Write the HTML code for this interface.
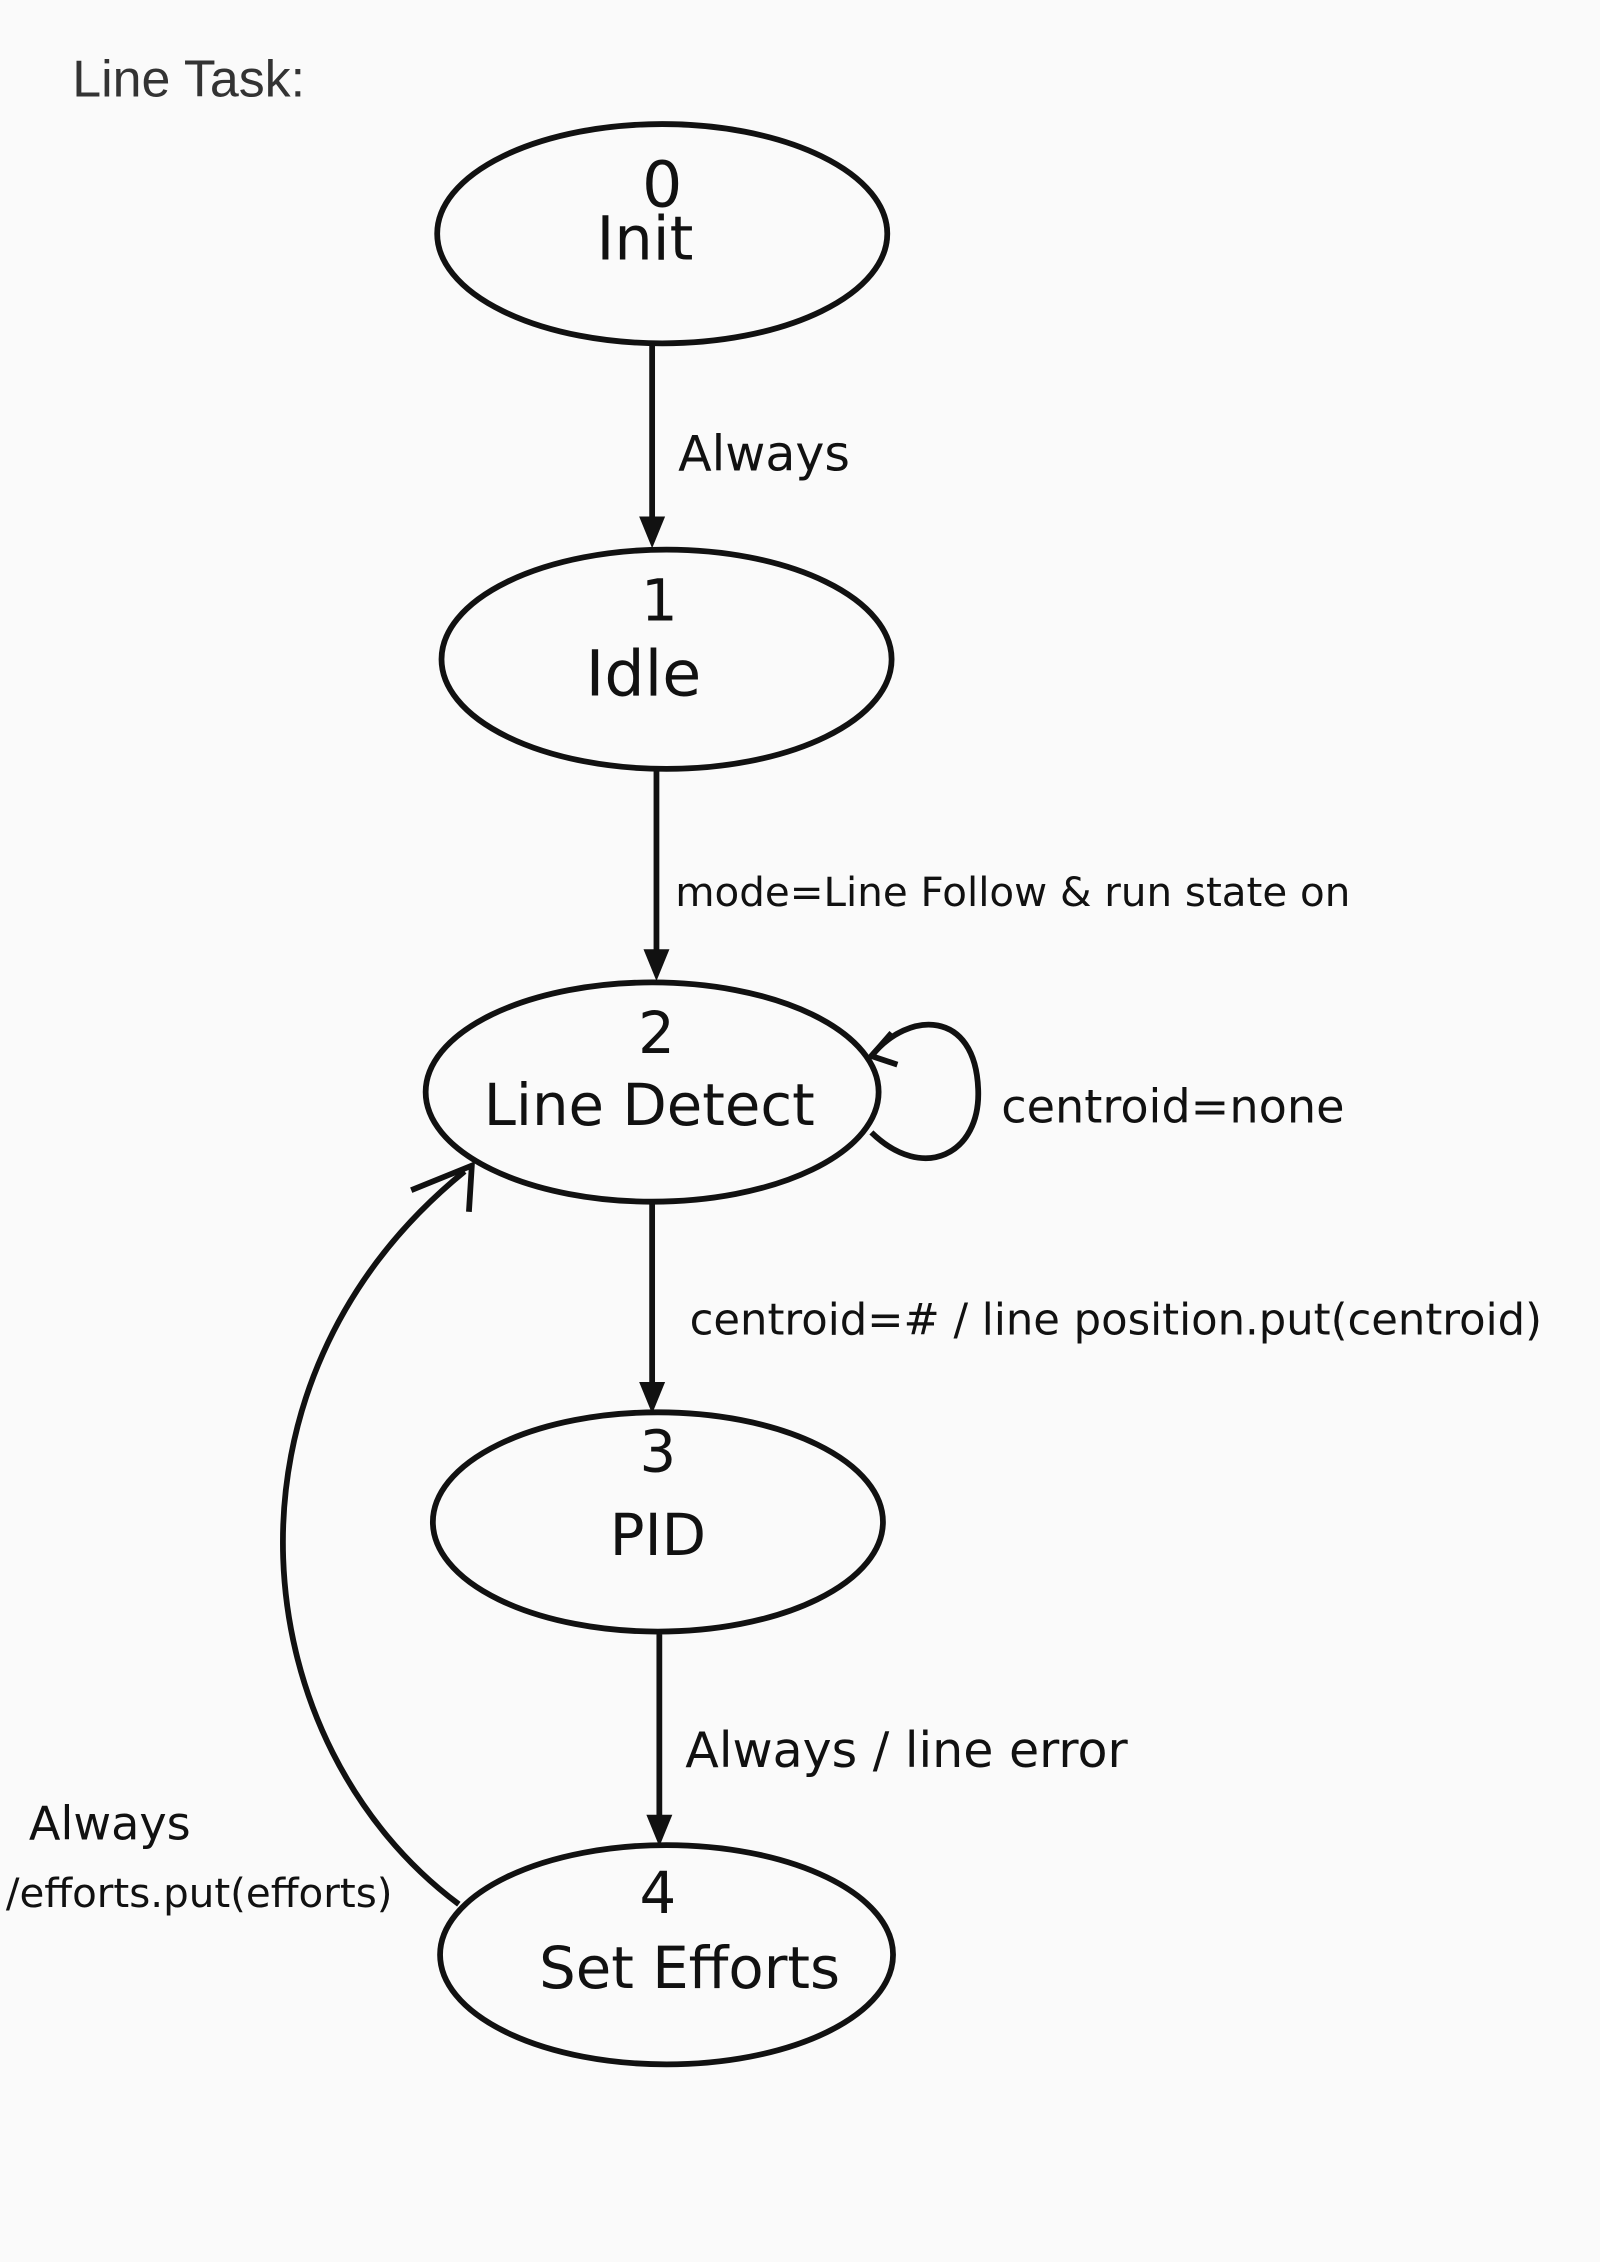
<!DOCTYPE html>
<html><head><meta charset="utf-8"><style>
html,body{margin:0;padding:0;background:#fafafa;}
svg{display:block}
text{font-family:"Liberation Sans",sans-serif;fill:#111}
.h{font-family:"DejaVu Sans","Liberation Sans",sans-serif;}
</style></head><body>
<svg width="1600" height="2262" viewBox="0 0 1109 1568" xmlns="http://www.w3.org/2000/svg">
<rect width="1109" height="1568" fill="#fafafa"/>
<text x="50" y="67" font-size="36" style="fill:#333">Line Task:</text>
<g fill="none" stroke="#111" stroke-width="4">
<ellipse cx="459" cy="162" rx="156" ry="76"/>
<ellipse cx="462" cy="457" rx="156" ry="76"/>
<ellipse cx="452" cy="757" rx="157" ry="76"/>
<ellipse cx="456" cy="1055" rx="156" ry="76"/>
<ellipse cx="462" cy="1355" rx="157" ry="76"/>
<line x1="452" y1="238" x2="452" y2="360"/>
<line x1="455" y1="533" x2="455" y2="660"/>
<line x1="452" y1="833" x2="452" y2="960"/>
<line x1="457" y1="1133" x2="457" y2="1260"/>
<path d="M318,1320 C170,1210 140,960 322,812"/>
<path d="M285,825 L327,808 L325,840"/>
<path d="M604,785 C640,820 680,800 678,755 C676,700 630,700 604,732"/>
<path d="M618,716 L604,732 L622,738"/>
</g>
<g fill="#111">
<path d="M443,358 L461,358 L452,380 z"/>
<path d="M446,658 L464,658 L455,680 z"/>
<path d="M443,958 L461,958 L452,980 z"/>
<path d="M448,1258 L466,1258 L457,1280 z"/>
</g>
<g class="h" text-anchor="middle" font-size="40">
<text x="459" y="143" class="h" font-size="44">0</text>
<text x="447" y="180" class="h" font-size="42">Init</text>
<text x="457" y="430" class="h">1</text>
<text x="446" y="482" class="h" font-size="44">Idle</text>
<text x="455" y="730" class="h">2</text>
<text x="450" y="780" class="h">Line Detect</text>
<text x="456" y="1020" class="h">3</text>
<text x="456" y="1078" class="h">PID</text>
<text x="456" y="1326" class="h">4</text>
<text x="478" y="1378" class="h">Set Efforts</text>
</g>
<g class="h" font-size="30">
<text x="470" y="326" class="h" font-size="34">Always</text>
<text x="468" y="628" class="h" font-size="28">mode=Line Follow &amp; run state on</text>
<text x="694" y="778" class="h" font-size="32">centroid=none</text>
<text x="478" y="925" class="h" font-size="30">centroid=# / line position.put(centroid)</text>
<text x="475" y="1225" class="h" font-size="34">Always / line error</text>
<text x="20" y="1275" class="h" font-size="32">Always</text>
<text x="4" y="1322" class="h" font-size="28">/efforts.put(efforts)</text>
</g>
</svg>
</body></html>
